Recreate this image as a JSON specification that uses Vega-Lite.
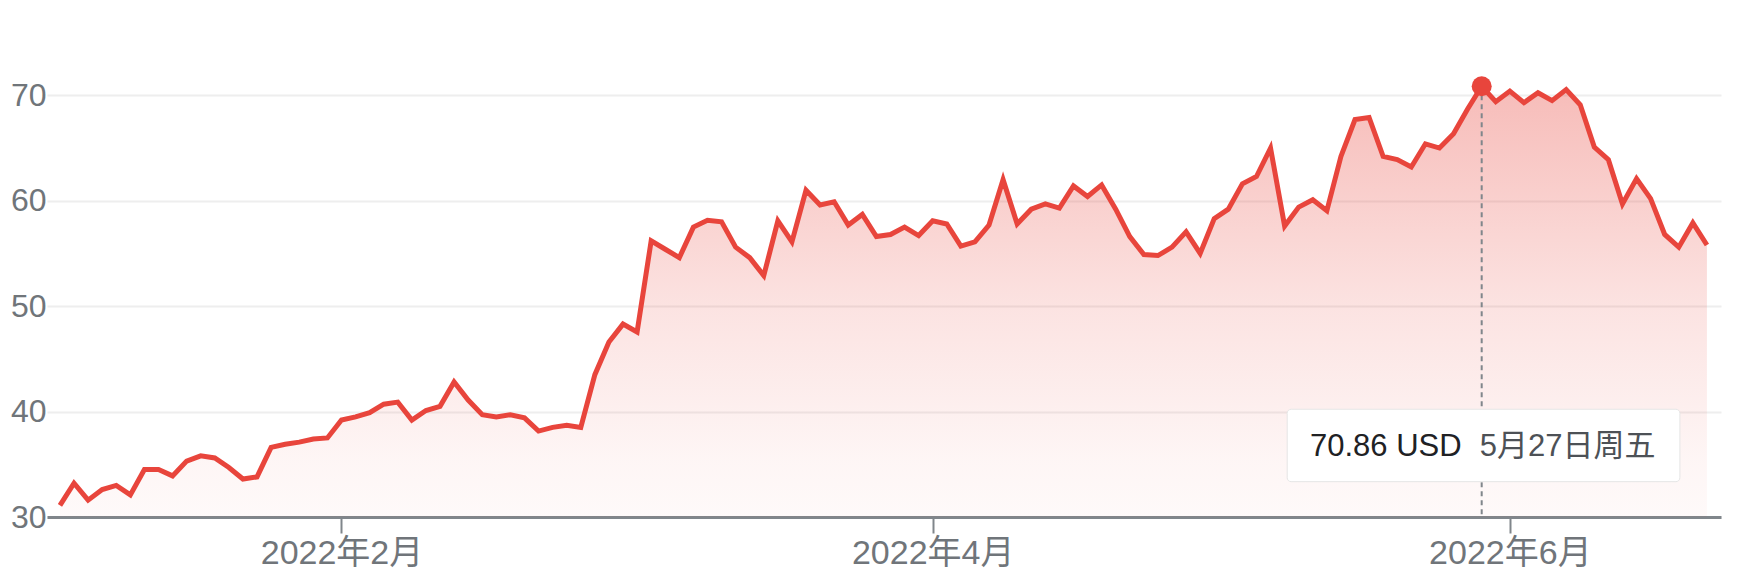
{
  "$schema": "https://vega.github.io/schema/vega-lite/v6.json",
  "width": 1674,
  "height": 506,
  "autosize": {"type": "none"},
  "padding": {"left": 47, "top": 11, "right": 39, "bottom": 69},
  "background": "white",
  "data": {
    "values": [
      {"date": "2022-01-03", "close": 31.1},
      {"date": "2022-01-04", "close": 33.2},
      {"date": "2022-01-05", "close": 31.6},
      {"date": "2022-01-06", "close": 32.6},
      {"date": "2022-01-07", "close": 33.0},
      {"date": "2022-01-10", "close": 32.1},
      {"date": "2022-01-11", "close": 34.5},
      {"date": "2022-01-12", "close": 34.5},
      {"date": "2022-01-13", "close": 33.9},
      {"date": "2022-01-14", "close": 35.3},
      {"date": "2022-01-18", "close": 35.8},
      {"date": "2022-01-19", "close": 35.6},
      {"date": "2022-01-20", "close": 34.7},
      {"date": "2022-01-21", "close": 33.6},
      {"date": "2022-01-24", "close": 33.8},
      {"date": "2022-01-25", "close": 36.6},
      {"date": "2022-01-26", "close": 36.9},
      {"date": "2022-01-27", "close": 37.1},
      {"date": "2022-01-28", "close": 37.4},
      {"date": "2022-01-31", "close": 37.5},
      {"date": "2022-02-01", "close": 39.2},
      {"date": "2022-02-02", "close": 39.5},
      {"date": "2022-02-03", "close": 39.9},
      {"date": "2022-02-04", "close": 40.7},
      {"date": "2022-02-07", "close": 40.9},
      {"date": "2022-02-08", "close": 39.2},
      {"date": "2022-02-09", "close": 40.1},
      {"date": "2022-02-10", "close": 40.5},
      {"date": "2022-02-11", "close": 42.8},
      {"date": "2022-02-14", "close": 41.1},
      {"date": "2022-02-15", "close": 39.7},
      {"date": "2022-02-16", "close": 39.5},
      {"date": "2022-02-17", "close": 39.7},
      {"date": "2022-02-18", "close": 39.4},
      {"date": "2022-02-22", "close": 38.15},
      {"date": "2022-02-23", "close": 38.5},
      {"date": "2022-02-24", "close": 38.7},
      {"date": "2022-02-25", "close": 38.5},
      {"date": "2022-02-28", "close": 43.5},
      {"date": "2022-03-01", "close": 46.6},
      {"date": "2022-03-02", "close": 48.3},
      {"date": "2022-03-03", "close": 47.55},
      {"date": "2022-03-04", "close": 56.2},
      {"date": "2022-03-07", "close": 55.4},
      {"date": "2022-03-08", "close": 54.6},
      {"date": "2022-03-09", "close": 57.5},
      {"date": "2022-03-10", "close": 58.15},
      {"date": "2022-03-11", "close": 58.0},
      {"date": "2022-03-14", "close": 55.6},
      {"date": "2022-03-15", "close": 54.6},
      {"date": "2022-03-16", "close": 52.9},
      {"date": "2022-03-17", "close": 58.1},
      {"date": "2022-03-18", "close": 56.1},
      {"date": "2022-03-21", "close": 61.0},
      {"date": "2022-03-22", "close": 59.6},
      {"date": "2022-03-23", "close": 59.9},
      {"date": "2022-03-24", "close": 57.7},
      {"date": "2022-03-25", "close": 58.7},
      {"date": "2022-03-28", "close": 56.6},
      {"date": "2022-03-29", "close": 56.8},
      {"date": "2022-03-30", "close": 57.5},
      {"date": "2022-03-31", "close": 56.7},
      {"date": "2022-04-01", "close": 58.1},
      {"date": "2022-04-04", "close": 57.8},
      {"date": "2022-04-05", "close": 55.7},
      {"date": "2022-04-06", "close": 56.1},
      {"date": "2022-04-07", "close": 57.7},
      {"date": "2022-04-08", "close": 62.0},
      {"date": "2022-04-11", "close": 57.8},
      {"date": "2022-04-12", "close": 59.2},
      {"date": "2022-04-13", "close": 59.7},
      {"date": "2022-04-14", "close": 59.3},
      {"date": "2022-04-18", "close": 61.4},
      {"date": "2022-04-19", "close": 60.4},
      {"date": "2022-04-20", "close": 61.5},
      {"date": "2022-04-21", "close": 59.2},
      {"date": "2022-04-22", "close": 56.6},
      {"date": "2022-04-25", "close": 54.9},
      {"date": "2022-04-26", "close": 54.8},
      {"date": "2022-04-27", "close": 55.6},
      {"date": "2022-04-28", "close": 57.05},
      {"date": "2022-04-29", "close": 55.0},
      {"date": "2022-05-02", "close": 58.3},
      {"date": "2022-05-03", "close": 59.2},
      {"date": "2022-05-04", "close": 61.6},
      {"date": "2022-05-05", "close": 62.3},
      {"date": "2022-05-06", "close": 65.0},
      {"date": "2022-05-09", "close": 57.6},
      {"date": "2022-05-10", "close": 59.4},
      {"date": "2022-05-11", "close": 60.1},
      {"date": "2022-05-12", "close": 59.05},
      {"date": "2022-05-13", "close": 64.2},
      {"date": "2022-05-16", "close": 67.7},
      {"date": "2022-05-17", "close": 67.9},
      {"date": "2022-05-18", "close": 64.2},
      {"date": "2022-05-19", "close": 63.9},
      {"date": "2022-05-20", "close": 63.2},
      {"date": "2022-05-23", "close": 65.4},
      {"date": "2022-05-24", "close": 65.0},
      {"date": "2022-05-25", "close": 66.35},
      {"date": "2022-05-26", "close": 68.7},
      {"date": "2022-05-27", "close": 70.86},
      {"date": "2022-05-31", "close": 69.4},
      {"date": "2022-06-01", "close": 70.4},
      {"date": "2022-06-02", "close": 69.3},
      {"date": "2022-06-03", "close": 70.25},
      {"date": "2022-06-06", "close": 69.5},
      {"date": "2022-06-07", "close": 70.55},
      {"date": "2022-06-08", "close": 69.1},
      {"date": "2022-06-09", "close": 65.1},
      {"date": "2022-06-10", "close": 63.9},
      {"date": "2022-06-13", "close": 59.7},
      {"date": "2022-06-14", "close": 62.1},
      {"date": "2022-06-15", "close": 60.2},
      {"date": "2022-06-16", "close": 56.8},
      {"date": "2022-06-17", "close": 55.6},
      {"date": "2022-06-21", "close": 57.9},
      {"date": "2022-06-22", "close": 55.8}
    ]
  },
  "transform": [
    {"window": [{"op": "row_number", "as": "day"}], "sort": [{"field": "date"}]}
  ],
  "encoding": {
    "x": {
      "field": "day",
      "type": "quantitative",
      "scale": {"domain": [0.08, 119], "nice": false, "zero": false},
      "axis": {
        "title": null,
        "values": [21, 63, 104],
        "labelExpr": "datum.value == 21 ? '2022年2月' : datum.value == 63 ? '2022年4月' : '2022年6月'",
        "grid": false,
        "domainColor": "#80868b",
        "domainWidth": 3,
        "tickColor": "#80868b",
        "tickWidth": 2,
        "tickSize": 16,
        "labelPadding": 3,
        "labelFontSize": 34,
        "labelColor": "#70757a"
      }
    },
    "y": {
      "field": "close",
      "type": "quantitative",
      "scale": {"domain": [30, 78], "nice": false, "zero": false},
      "axis": {
        "title": null,
        "values": [30, 40, 50, 60, 70],
        "domain": false,
        "ticks": false,
        "labelPadding": 1,
        "labelFontSize": 32,
        "labelColor": "#70757a",
        "gridColor": "#eeeeee",
        "gridWidth": 2
      }
    }
  },
  "layer": [
    {
      "mark": {
        "type": "area",
        "clip": true,
        "color": {
          "gradient": "linear",
          "x1": 0, "y1": 0, "x2": 0, "y2": 1,
          "stops": [
            {"offset": 0, "color": "rgba(232,69,60,0.36)"},
            {"offset": 0.3, "color": "rgba(232,69,60,0.15)"},
            {"offset": 0.5, "color": "rgba(232,69,60,0.05)"},
            {"offset": 0.68, "color": "rgba(232,69,60,0)"}
          ]
        }
      }
    },
    {
      "transform": [{"filter": "datum.date == '2022-05-27'"}],
      "mark": {"type": "rule", "color": "#80868b", "strokeWidth": 2, "strokeDash": [5, 4]},
      "encoding": {"y2": {"datum": 30}}
    },
    {
      "mark": {"type": "line", "color": "#e8453c", "strokeWidth": 5, "strokeJoin": "miter", "clip": true}
    },
    {
      "transform": [{"filter": "datum.date == '2022-05-27'"}],
      "mark": {"type": "point", "filled": true, "opacity": 1, "size": 400, "color": "#e8453c"}
    },
    {
      "transform": [{"filter": "datum.date == '2022-05-27'"}],
      "mark": {"type": "rect", "color": "#000000", "opacity": 0.13, "cornerRadius": 5, "yOffset": 2},
      "encoding": {
        "x": {"datum": 88.18, "type": "quantitative"},
        "x2": {"datum": 116.08},
        "y": {"datum": 40.22, "type": "quantitative"},
        "y2": {"datum": 33.35}
      }
    },
    {
      "transform": [{"filter": "datum.date == '2022-05-27'"}],
      "mark": {"type": "rect", "color": "#ffffff", "stroke": "#e6e6e6", "strokeWidth": 1, "cornerRadius": 4},
      "encoding": {
        "x": {"datum": 88.18, "type": "quantitative"},
        "x2": {"datum": 116.08},
        "y": {"datum": 40.22, "type": "quantitative"},
        "y2": {"datum": 33.35}
      }
    },
    {
      "transform": [{"filter": "datum.date == '2022-05-27'"}],
      "mark": {
        "type": "text",
        "align": "left",
        "baseline": "alphabetic",
        "fontSize": 31,
        "color": "#202124",
        "text": {"expr": "format(datum.close, '.2f') + ' USD'"}
      },
      "encoding": {
        "x": {"datum": 89.8, "type": "quantitative"},
        "y": {"datum": 35.79, "type": "quantitative"}
      }
    },
    {
      "transform": [{"filter": "datum.date == '2022-05-27'"}],
      "mark": {
        "type": "text",
        "align": "left",
        "baseline": "alphabetic",
        "fontSize": 31,
        "color": "#4d5156",
        "text": "5月27日周五"
      },
      "encoding": {
        "x": {"datum": 101.87, "type": "quantitative"},
        "y": {"datum": 35.79, "type": "quantitative"}
      }
    }
  ],
  "config": {
    "font": "Arial, 'Liberation Sans', 'Noto Sans CJK SC', sans-serif",
    "view": {"stroke": null}
  }
}
